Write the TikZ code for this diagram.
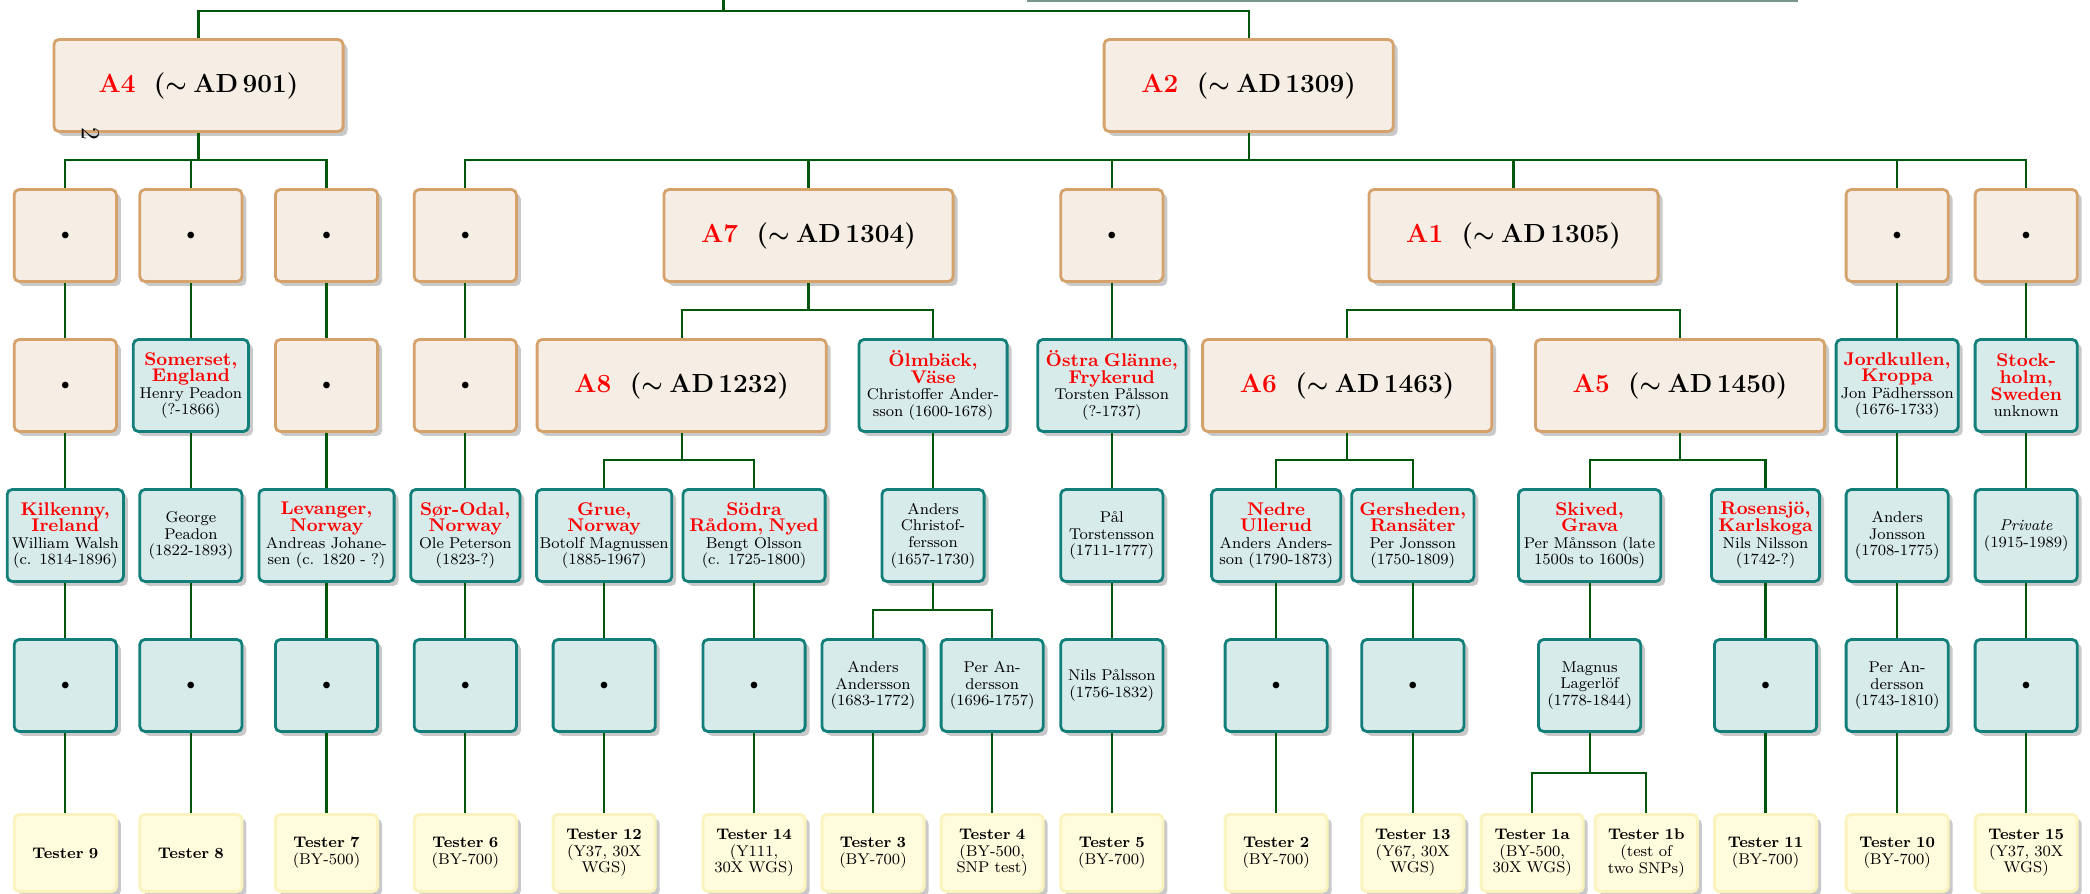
\documentclass[tikz,border=0pt]{standalone}
\usetikzlibrary{shadows}
\definecolor{lineg}{RGB}{0,86,10}
\definecolor{hapfill}{RGB}{246,238,229}
\definecolor{hapdraw}{RGB}{213,162,108}
\definecolor{ancfill}{RGB}{216,235,235}
\definecolor{ancdraw}{RGB}{19,127,122}
\definecolor{tstfill}{RGB}{255,251,221}
\definecolor{tstdraw}{RGB}{250,243,190}
\definecolor{topgray}{RGB}{120,150,140}
\setlength{\lineskiplimit}{-20pt}
\newcommand{\plc}[1]{{\fontsize{9.2}{8.3}\selectfont\bfseries\color{red}#1}}
\newcommand{\hd}[2]{\textcolor{red}{#1}\hspace{0.7em}({\boldmath$\sim$}\hspace{0.25em}AD\,#2)}
\newcommand{\tsb}[1]{{\fontsize{7.7}{8.3}\selectfont\bfseries #1}}
\tikzset{
  conn/.style={draw=lineg, line width=1.1pt},
  wd/.style={text width=#1pt},
  bx/.style={rectangle, rounded corners=2.5pt, line width=1.4pt, align=center,
    inner xsep=1pt, inner ysep=1pt,
    drop shadow={shadow xshift=2.2pt, shadow yshift=-2.2pt, opacity=0.3, fill=black!70},
    font=\fontsize{7.8}{8.3}\selectfont},
  hap/.style={bx, draw=hapdraw, fill=hapfill, minimum height=46pt},
  big/.style={hap, wd=142.6, font=\fontsize{13.1}{15}\selectfont\bfseries},
  anc/.style={bx, draw=ancdraw, fill=ancfill, minimum height=46pt},
  tsr/.style={bx, draw=tstdraw, fill=tstfill, minimum height=38.6pt, wd=49.1},
}
\begin{document}
\begin{tikzpicture}[x=0.5pt,y=-0.5pt]
\useasboundingbox (0,0) rectangle (2090,894);
\coordinate (root) at (723.5,0);
\coordinate (b0) at (0,11);
\coordinate (b1) at (0,160.3);
\coordinate (b2) at (0,310);
\coordinate (b3) at (0,460.3);
\coordinate (b4) at (0,610);
\coordinate (b5) at (0,773);
\coordinate (tg1) at (1027,0.6);
\coordinate (tg2) at (1798,0.6);
\draw[topgray, line width=1.2pt] (tg1) -- (tg2);

% row 0
\node[big] (A4) at (198.5,85.5) {\hd{A4}{901}};
\node[big] (A2) at (1248.7,85.5) {\hd{A2}{1309}};
% row 1
\node[hap,wd=49.1] (n11) at (65.3,235.5) {$\bullet$};
\node[hap,wd=49.1] (n12) at (190.9,235.5) {$\bullet$};
\node[hap,wd=49.1] (n13) at (326.5,235.5) {$\bullet$};
\node[hap,wd=49.1] (n14) at (465.3,235.5) {$\bullet$};
\node[big] (A7) at (808.5,235.5) {\hd{A7}{1304}};
\node[hap,wd=49.1] (n16) at (1111.8,235.5) {$\bullet$};
\node[big] (A1) at (1513.5,235.5) {\hd{A1}{1305}};
\node[hap,wd=49.1] (n18) at (1897.2,235.5) {$\bullet$};
\node[hap,wd=49.1] (n19) at (2026.2,235.5) {$\bullet$};
% row 2
\node[hap,wd=49.1] (n21) at (65.3,385.5) {$\bullet$};
\node[anc,wd=55.6] (som) at (190.9,385.5) {\plc{Somerset,\\England}\\Henry Peadon\\(?-1866)};
\node[hap,wd=49.1] (n23) at (326.5,385.5) {$\bullet$};
\node[hap,wd=49.1] (n24) at (465.3,385.5) {$\bullet$};
\node[big] (A8) at (681.7,385.5) {\hd{A8}{1232}};
\node[anc,wd=72.1] (olm) at (933,385.5) {\plc{Ölmbäck,\\Väse}\\Christoffer Ander-\\sson (1600-1678)};
\node[anc,wd=72.1] (ost) at (1111.8,385.5) {\plc{Östra Glänne,\\Frykerud}\\Torsten Pålsson\\(?-1737)};
\node[big] (A6) at (1347.2,385.5) {\hd{A6}{1463}};
\node[big] (A5) at (1680,385.5) {\hd{A5}{1450}};
\node[anc,wd=59.1] (jor) at (1897.2,385.5) {\plc{Jordkullen,\\Kroppa}\\Jon Pädhersson\\(1676-1733)};
\node[anc,wd=49.1] (sto) at (2026.2,385.5) {\plc{Stock-\\holm,\\Sweden}\\unknown};
% row 3
\node[anc,wd=56.1] (kil) at (65.3,535.5) {\plc{Kilkenny,\\Ireland}\\William Walsh\\(c. 1814-1896)};
\node[anc,wd=49.1] (geo) at (190.9,535.5) {George\\Peadon\\(1822-1893)};
\node[anc,wd=65.6] (lev) at (326.5,535.5) {\plc{Levanger,\\Norway}\\Andreas Johane-\\sen (c. 1820 - ?)};
\node[anc,wd=52.6] (sor) at (465.3,535.5) {\plc{Sør-Odal,\\Norway}\\Ole Peterson\\(1823-?)};
\node[anc,wd=65.6] (gru) at (604.2,535.5) {\plc{Grue,\\Norway}\\Botolf Magnussen\\(1885-1967)};
\node[anc,wd=69.1] (sod) at (754,535.5) {\plc{Södra\\Rådom, Nyed}\\Bengt Olsson\\(c. 1725-1800)};
\node[anc,wd=49.1] (acf) at (933,535.5) {Anders\\Christof-\\fersson\\(1657-1730)};
\node[anc,wd=49.1] (pal) at (1111.8,535.5) {Pål\\Torstensson\\(1711-1777)};
\node[anc,wd=62.6] (ned) at (1276.2,535.5) {\plc{Nedre\\Ullerud}\\Anders Anders-\\son (1790-1873)};
\node[anc,wd=59.1] (ger) at (1412.8,535.5) {\plc{Gersheden,\\Ransäter}\\Per Jonsson\\(1750-1809)};
\node[anc,wd=69.1] (ski) at (1589.6,535.5) {\plc{Skived,\\Grava}\\Per Månsson (late\\1500s to 1600s)};
\node[anc,wd=52.1] (ros) at (1765.5,535.5) {\plc{Rosensjö,\\Karlskoga}\\Nils Nilsson\\(1742-?)};
\node[anc,wd=49.1] (ajo) at (1897.2,535.5) {Anders\\Jonsson\\(1708-1775)};
\node[anc,wd=49.1] (pri) at (2026.2,535.5) {\textit{Private}\\(1915-1989)};
% row 4
\node[anc,wd=49.1] (r41) at (65.3,685.5) {$\bullet$};
\node[anc,wd=49.1] (r42) at (190.9,685.5) {$\bullet$};
\node[anc,wd=49.1] (r43) at (326.5,685.5) {$\bullet$};
\node[anc,wd=49.1] (r44) at (465.3,685.5) {$\bullet$};
\node[anc,wd=49.1] (r45) at (604.2,685.5) {$\bullet$};
\node[anc,wd=49.1] (r46) at (754,685.5) {$\bullet$};
\node[anc,wd=49.1] (aan) at (873,685.5) {Anders\\Andersson\\(1683-1772)};
\node[anc,wd=49.1] (pan) at (992.2,685.5) {Per An-\\dersson\\(1696-1757)};
\node[anc,wd=49.1] (nil) at (1111.8,685.5) {Nils Pålsson\\(1756-1832)};
\node[anc,wd=49.1] (r410) at (1276.2,685.5) {$\bullet$};
\node[anc,wd=49.1] (r411) at (1412.8,685.5) {$\bullet$};
\node[anc,wd=49.1] (mag) at (1589.6,685.5) {Magnus\\Lagerlöf\\(1778-1844)};
\node[anc,wd=49.1] (r413) at (1765.5,685.5) {$\bullet$};
\node[anc,wd=49.1] (pa2) at (1897.2,685.5) {Per An-\\dersson\\(1743-1810)};
\node[anc,wd=49.1] (r415) at (2026.2,685.5) {$\bullet$};
% row 5
\node[tsr] (t9) at (65.3,853) {\tsb{Tester 9}};
\node[tsr] (t8) at (190.9,853) {\tsb{Tester 8}};
\node[tsr] (t7) at (326.5,853) {\tsb{Tester 7}\\(BY-500)};
\node[tsr] (t6) at (465.3,853) {\tsb{Tester 6}\\(BY-700)};
\node[tsr] (t12) at (604.2,853) {\tsb{Tester 12}\\(Y37, 30X\\WGS)};
\node[tsr] (t14) at (754,853) {\tsb{Tester 14}\\(Y111,\\30X WGS)};
\node[tsr] (t3) at (873,853) {\tsb{Tester 3}\\(BY-700)};
\node[tsr] (t4) at (992.2,853) {\tsb{Tester 4}\\(BY-500,\\SNP test)};
\node[tsr] (t5) at (1111.8,853) {\tsb{Tester 5}\\(BY-700)};
\node[tsr] (t2) at (1276.2,853) {\tsb{Tester 2}\\(BY-700)};
\node[tsr] (t13) at (1412.8,853) {\tsb{Tester 13}\\(Y67, 30X\\WGS)};
\node[tsr] (t1a) at (1532.2,853) {\tsb{Tester 1a}\\(BY-500,\\30X WGS)};
\node[tsr] (t1b) at (1646.3,853) {\tsb{Tester 1b}\\(test of\\two SNPs)};
\node[tsr] (t11) at (1765.5,853) {\tsb{Tester 11}\\(BY-700)};
\node[tsr] (t10) at (1897.2,853) {\tsb{Tester 10}\\(BY-700)};
\node[tsr] (t15) at (2026.2,853) {\tsb{Tester 15}\\(Y37, 30X\\WGS)};

% connectors
\draw[conn] (root) -- (root |- b0) -| (A4.north);
\draw[conn] (root |- b0) -| (A2.north);
\foreach \p/\b/\c in {A4/b1/n11, A4/b1/n12, A4/b1/n13,
  A2/b1/n14, A2/b1/A7, A2/b1/n16, A2/b1/A1, A2/b1/n18, A2/b1/n19,
  n11/b2/n21, n12/b2/som, n13/b2/n23, n14/b2/n24, A7/b2/A8, A7/b2/olm,
  n16/b2/ost, A1/b2/A6, A1/b2/A5, n18/b2/jor, n19/b2/sto,
  n21/b3/kil, som/b3/geo, n23/b3/lev, n24/b3/sor, A8/b3/gru, A8/b3/sod,
  olm/b3/acf, ost/b3/pal, A6/b3/ned, A6/b3/ger, A5/b3/ski, A5/b3/ros,
  jor/b3/ajo, sto/b3/pri,
  kil/b4/r41, geo/b4/r42, lev/b4/r43, sor/b4/r44, gru/b4/r45, sod/b4/r46,
  acf/b4/aan, acf/b4/pan, pal/b4/nil, ned/b4/r410, ger/b4/r411, ski/b4/mag,
  ros/b4/r413, ajo/b4/pa2, pri/b4/r415,
  r41/b5/t9, r42/b5/t8, r43/b5/t7, r44/b5/t6, r45/b5/t12, r46/b5/t14,
  aan/b5/t3, pan/b5/t4, nil/b5/t5, r410/b5/t2, r411/b5/t13, mag/b5/t1a,
  mag/b5/t1b, r413/b5/t11, pa2/b5/t10, r415/b5/t15}
  \draw[conn] (\p.south) -- (\p.south |- \b) -| (\c.north);

\node[rotate=-90, inner sep=0pt, font=\fontsize{13}{13}\selectfont] (two) at (90.5,134) {2};
\end{tikzpicture}
\end{document}
